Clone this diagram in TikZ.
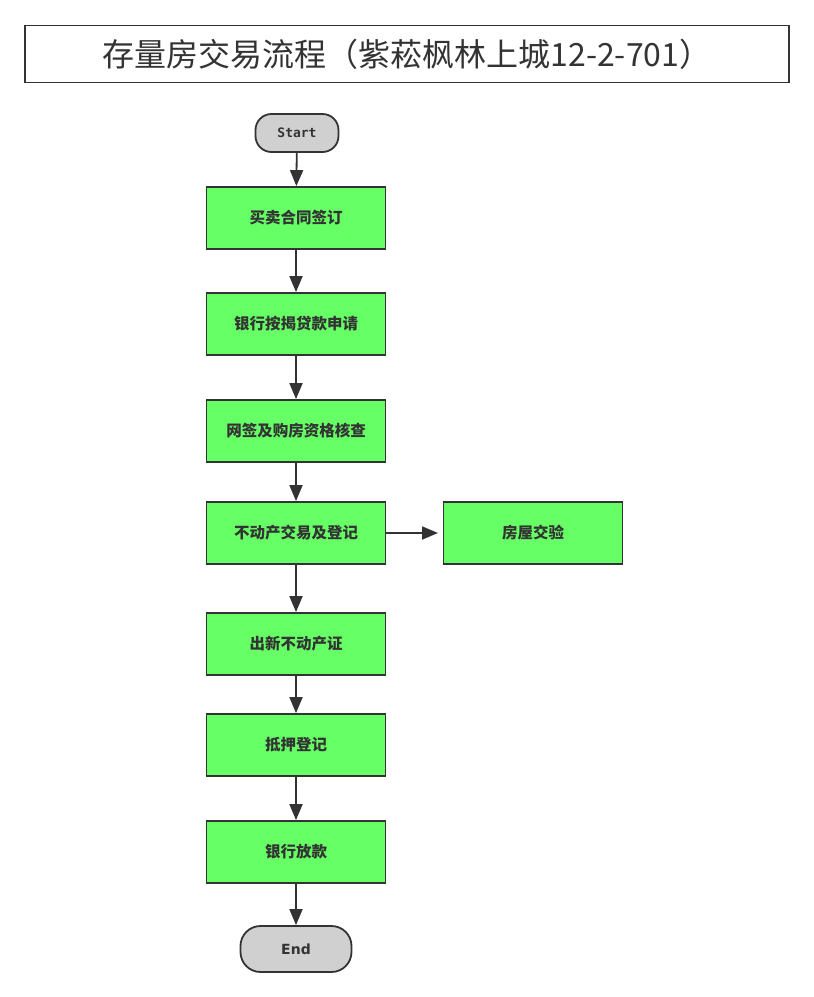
\documentclass[tikz,border=0pt]{standalone}
\usepackage{fontspec}
\newfontfamily\cjk{Noto Sans CJK SC}
\newfontfamily\monofont{DejaVu Sans Mono}
\newfontfamily\endfont{DejaVu Sans}
\usetikzlibrary{arrows.meta}
\definecolor{boxgreen}{HTML}{66FF66}
\definecolor{termgray}{HTML}{D0D0D0}
\definecolor{linegray}{HTML}{333333}
\begin{document}
\begin{tikzpicture}[x=1pt, y=-1pt,
    stepbox/.style={draw=linegray, line width=1.8pt, fill=boxgreen, rectangle, minimum width=179pt, minimum height=62pt, font=\cjk\bfseries\fontsize{15.5}{18}\selectfont, text=linegray},
    term/.style={draw=linegray, line width=1.8pt, fill=termgray, rounded corners=16pt, text=linegray},
    flow/.style={draw=linegray, line width=1.8pt, -{Triangle[length=16pt, width=13pt]}}]
    \useasboundingbox (0,0) rectangle (814,997);
    \node at (407,54) [draw=linegray, line width=1.8pt, rectangle, minimum width=764pt, minimum height=57pt, font=\cjk\fontsize{32}{36}\selectfont, text=linegray] (title) {存量房交易流程（紫菘枫林上城12-2-701）};
    \node at (297,133) [term, minimum width=83pt, minimum height=38pt, font=\monofont\bfseries\fontsize{13}{15}\selectfont] (start) {Start};
    \node at (296,218) [stepbox] (contract) {买卖合同签订};
    \node at (296,324) [stepbox] (loan) {银行按揭贷款申请};
    \node at (296,431) [stepbox] (check) {网签及购房资格核查};
    \node at (296,533) [stepbox] (register) {不动产交易及登记};
    \node at (533,533) [stepbox] (inspect) {房屋交验};
    \node at (296,644) [stepbox] (cert) {出新不动产证};
    \node at (296,745) [stepbox] (mortgage) {抵押登记};
    \node at (296,852) [stepbox] (release) {银行放款};
    \node at (296,949) [term, minimum width=111pt, minimum height=46pt, rounded corners=20pt, font=\endfont\bfseries\fontsize{14}{16}\selectfont] (end) {End};
    % main chain
    \draw[flow] (start) -- (contract);
    \draw[flow] (contract) -- (loan);
    \draw[flow] (loan) -- (check);
    \draw[flow] (check) -- (register);
    \draw[flow] (register) -- (cert);
    \draw[flow] (cert) -- (mortgage);
    \draw[flow] (mortgage) -- (release);
    \draw[flow] (release) -- (end);
    % side branch
    \draw[flow] (register) -- ++(142,0);
\end{tikzpicture}
\end{document}
